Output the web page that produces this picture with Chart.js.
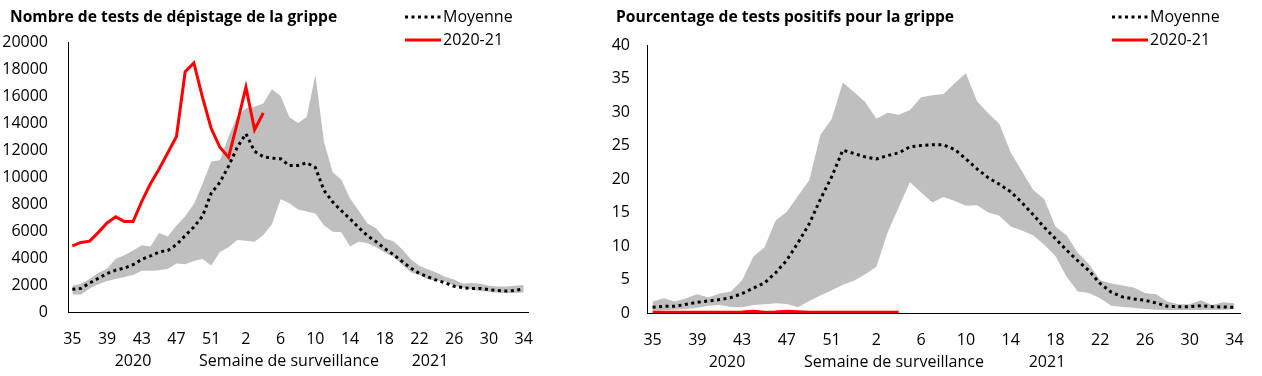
<!DOCTYPE html>
<html>
<head>
<meta charset="utf-8">
<script src="https://cdn.jsdelivr.net/npm/chart.js@4.4.0/dist/chart.umd.min.js"></script>
<style>
  html, body { margin: 0; padding: 0; background: #fff; }
  #wrap { position: relative; width: 1262px; height: 376px; }
  canvas { position: absolute; top: 0; }
</style>
</head>
<body>
<div id="wrap">
  <canvas id="c1" width="600" height="376" style="left:0"></canvas>
  <canvas id="c2" width="662" height="376" style="left:600px"></canvas>
</div>
<script>
// semaines de surveillance 35 (2020) -> 34 (2021)
const semaines = [35,36,37,38,39,40,41,42,43,44,45,46,47,48,49,50,51,52,53,
  1,2,3,4,5,6,7,8,9,10,11,12,13,14,15,16,17,18,19,20,21,22,23,24,25,26,27,28,29,30,31,32,33,34];

// nombre de tests
const testsMax = [1950,2100,2450,2900,3200,3950,4200,4550,4950,4850,5850,5600,6400,7100,8000,9500,11150,11250,13000,14500,
  15100,15200,15450,16500,16000,14450,14000,14450,17550,12600,10350,9800,8400,7500,6550,6200,5450,5250,4650,3900,
  3400,3150,2900,2600,2400,2100,2150,2100,1950,1880,1880,1950,2000];
const testsMin = [1300,1300,1750,2050,2300,2450,2600,2750,3050,3050,3100,3200,3600,3530,3780,3920,3450,4450,4800,5330,
  5280,5200,5700,6500,8350,8050,7600,7450,7300,6400,5950,5900,4850,5200,5100,4800,4400,4100,3500,2950,
  2750,2400,2330,2250,1950,1780,1680,1550,1500,1420,1380,1400,1450];
const testsMoyenne = [1680,1750,2150,2500,2850,3100,3250,3500,3900,4150,4450,4550,5000,5650,6300,7100,8800,9600,10800,12200,
  13200,11900,11500,11400,11350,10850,10850,11050,10700,9000,8150,7500,6900,6250,5650,5200,4700,4250,3750,3250,
  2850,2600,2350,2150,1900,1800,1750,1750,1650,1600,1550,1600,1700];
const tests2021 = [4900,5150,5250,5900,6600,7050,6700,6700,8200,9500,10600,11800,13000,17800,18450,15900,13600,12200,11450,14000,
  16650,13500,14750];

// pourcentage de tests positifs
const posMax = [1.7,2.2,1.7,2.2,2.8,2.3,2.9,3.2,4.9,8.4,9.8,13.8,15.1,17.5,19.8,26.6,28.9,34.4,33.0,31.5,
  29.0,29.9,29.6,30.3,32.2,32.5,32.7,34.3,35.8,31.6,29.8,28.2,24.0,21.2,18.4,17.0,12.9,11.6,9.0,7.3,
  4.9,4.4,4.1,3.8,3.0,2.8,1.7,1.3,1.3,1.9,1.2,1.6,1.45];
const posMin = [0.3,0.4,0.5,0.6,0.8,1.1,1.2,0.9,0.85,1.2,1.3,1.45,1.35,0.85,1.8,2.6,3.4,4.2,4.8,5.8,
  6.9,12.0,15.8,19.5,18.0,16.5,17.3,16.7,16.0,16.1,15.0,14.5,12.9,12.3,11.6,10.2,8.5,5.4,3.2,3.0,
  2.2,1.1,0.9,0.8,0.6,0.5,0.45,0.45,0.45,0.45,0.5,0.5,0.55];
const posMoyenne = [0.85,1.0,1.0,1.3,1.6,1.8,2.0,2.3,2.9,3.7,4.5,6.0,7.9,10.5,13.3,17.0,20.3,24.3,23.8,23.3,
  23.0,23.5,23.9,24.8,25.0,25.1,25.1,24.4,23.0,21.5,20.2,19.2,18.1,16.5,14.7,12.8,11.1,9.4,7.8,6.3,
  4.4,3.1,2.4,2.1,1.9,1.5,1.0,0.95,0.95,1.1,0.95,0.9,0.85];
const pos2021 = [0.1,0.1,0.1,0.1,0.1,0.1,0.1,0.1,0.15,0.25,0.1,0.15,0.25,0.2,0.1,0.1,0.1,0.1,0.1,0.1,0.1,0.1,0.1];

const ROUGE = "#ff0000";
const GRIS = "#bfbfbf";
const POLICE = "'Open Sans'";

// titre, légende et textes sous l'axe
const decor = {
  id: "decor",
  afterDraw(chart, args, o) {
    const ctx = chart.ctx;
    ctx.save();
    ctx.fillStyle = "#000";
    ctx.textAlign = "left";
    ctx.textBaseline = "alphabetic";
    ctx.font = "bold 15.6px " + POLICE;
    ctx.fillText(o.titre, o.titreX, 22);

    const lignes = chart.data.datasets.filter(d => d.enLegende);
    lignes.forEach((d, i) => {
      const y = 17 + i * 23;
      ctx.beginPath();
      ctx.lineWidth = 3;
      ctx.strokeStyle = d.borderColor;
      ctx.setLineDash(d.borderDash || []);
      ctx.moveTo(o.legendeX, y);
      ctx.lineTo(o.legendeX + 36, y);
      ctx.stroke();
      ctx.setLineDash([]);
      ctx.font = "16px " + POLICE;
      ctx.textBaseline = "middle";
      ctx.fillText(d.label, o.legendeX + 38, y);
    });

    ctx.textAlign = "center";
    ctx.textBaseline = "middle";
    ctx.font = "16px " + POLICE;
    o.bas.forEach(([t, x]) => ctx.fillText(t, x, o.basY));
    ctx.restore();
  }
};

function graphique(id, max, min, moy, annee, yMax, pas, cfg) {
  return new Chart(document.getElementById(id), {
    type: "line",
    data: {
      labels: semaines.map(String),
      datasets: [
        { label: "max", data: max, order: 5, fill: "+1", backgroundColor: GRIS, borderColor: "rgba(0,0,0,0)", borderWidth: 0, pointRadius: 0 },
        { label: "min", data: min, order: 4, fill: false, borderColor: "rgba(0,0,0,0)", borderWidth: 0, pointRadius: 0 },
        { label: "Moyenne", data: moy, order: 1, enLegende: true, borderColor: "#000", borderWidth: 3, borderDash: [3, 3.5], pointRadius: 0, fill: false, tension: 0 },
        { label: "2020-21", data: annee, order: 0, enLegende: true, borderColor: ROUGE, borderWidth: 3, pointRadius: 0, fill: false, tension: 0 }
      ]
    },
    options: {
      responsive: false,
      animation: false,
      events: [],
      layout: { padding: { left: 0, right: cfg.droite, top: cfg.haut, bottom: 0 } },
      plugins: { legend: { display: false }, tooltip: { enabled: false }, decor: cfg },
      scales: {
        x: {
          offset: true,
          grid: { display: false, drawTicks: false },
          border: { color: "#000", width: 1 },
          afterFit: s => { s.height = cfg.basAxe; },
          ticks: {
            autoSkip: false, maxRotation: 0, padding: 18, color: "#000",
            font: { family: POLICE, size: 16 },
            callback: (v, i) => (i % 4 === 0 ? semaines[i] : "")
          }
        },
        y: {
          min: 0, max: yMax,
          grid: { display: false, drawTicks: false },
          border: { color: "#000", width: 1 },
          afterFit: s => { s.width = cfg.gauche; },
          ticks: {
            stepSize: pas, padding: cfg.padY, color: "#000",
            font: { family: POLICE, size: 16 },
            callback: v => String(v)
          }
        }
      }
    },
    plugins: [decor]
  });
}

graphique("c1", testsMax, testsMin, testsMoyenne, tests2021, 20000, 2000, {
  titre: "Nombre de tests de dépistage de la grippe", titreX: 10,
  legendeX: 405, gauche: 68, droite: 72, haut: 42, basAxe: 64, padY: 20,
  bas: [["2020", 133], ["Semaine de surveillance", 289], ["2021", 430]], basY: 361
});

graphique("c2", posMax, posMin, posMoyenne, pos2021, 40, 5, {
  titre: "Pourcentage de tests positifs pour la grippe", titreX: 16,
  legendeX: 512, gauche: 47, droite: 22, haut: 45, basAxe: 63, padY: 17,
  bas: [["2020", 127], ["Semaine de surveillance", 294], ["2021", 447]], basY: 362
});
</script>
</body>
</html>
